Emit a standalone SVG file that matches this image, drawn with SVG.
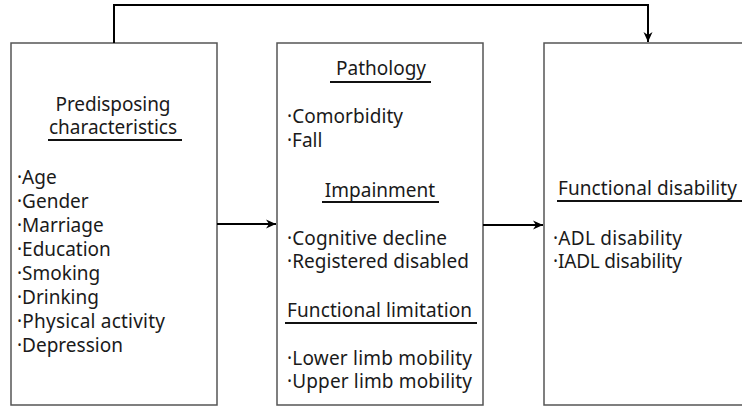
<svg xmlns="http://www.w3.org/2000/svg" width="742" height="407" viewBox="0 0 742 407">
<style>
.box{fill:#fff;stroke:#555;stroke-width:1.5}
.t{font-family:"Noto Sans","Open Sans",sans-serif;font-size:19px;fill:#1a1a1a}
.c{text-anchor:middle}
.ul{stroke:#111;stroke-width:2}
.conn{fill:none;stroke:#000;stroke-width:2}
</style>
<defs>
<marker id="ah" markerUnits="userSpaceOnUse" markerWidth="12" markerHeight="12" viewBox="0 0 12 12" refX="11" refY="6" orient="auto">
<path d="M1,1.5 L11,6 L1,10.5 L4,6 z" fill="#000"/>
</marker>
</defs>
<rect width="742" height="407" fill="#fff"/>
<g id="node-predisposing">
<rect class="box" x="11" y="43" width="206" height="362"/>
<text class="t c" x="113" y="111" textLength="115">Predisposing</text>
<text class="t c" x="113" y="134" textLength="128">characteristics</text>
<line class="ul" x1="48" y1="140" x2="182" y2="140"/>
<text class="t" x="17" y="184">·Age</text>
<text class="t" x="17" y="208">·Gender</text>
<text class="t" x="17" y="232">·Marriage</text>
<text class="t" x="17" y="256">·Education</text>
<text class="t" x="17" y="280">·Smoking</text>
<text class="t" x="17" y="304">·Drinking</text>
<text class="t" x="17" y="328" textLength="148">·Physical activity</text>
<text class="t" x="17" y="352">·Depression</text>
</g>
<g id="node-middle">
<rect class="box" x="277" y="43" width="206" height="362"/>
<text class="t c" x="381" y="75">Pathology</text>
<line class="ul" x1="330" y1="82" x2="431" y2="82"/>
<text class="t" x="287" y="123" textLength="116">·Comorbidity</text>
<text class="t" x="287" y="147">·Fall</text>
<text class="t c" x="380" y="197">Impainment</text>
<line class="ul" x1="322" y1="202" x2="439" y2="202"/>
<text class="t" x="287" y="245" textLength="160">·Cognitive decline</text>
<text class="t" x="287" y="268" textLength="182">·Registered disabled</text>
<text class="t" x="287" y="317" textLength="185">Functional limitation</text>
<line class="ul" x1="285" y1="323" x2="477" y2="323"/>
<text class="t" x="287" y="365" textLength="185">·Lower limb mobility</text>
<text class="t" x="287" y="388" textLength="185">·Upper limb mobility</text>
</g>
<g id="node-functional-disability">
<rect class="box" x="544" y="43" width="210" height="362"/>
<text class="t" x="558" y="195" textLength="179">Functional disability</text>
<line class="ul" x1="557" y1="201" x2="742" y2="201"/>
<text class="t" x="553" y="245" textLength="129">·ADL disability</text>
<text class="t" x="553" y="268" textLength="129">·IADL disability</text>
</g>
<g id="connectors">
<polyline class="conn" points="114,43 114,5 648,5 648,42" marker-end="url(#ah)"/>
<line class="conn" x1="217" y1="224" x2="276" y2="224" marker-end="url(#ah)"/>
<line class="conn" x1="483" y1="225" x2="543" y2="225" marker-end="url(#ah)"/>
</g>
</svg>
